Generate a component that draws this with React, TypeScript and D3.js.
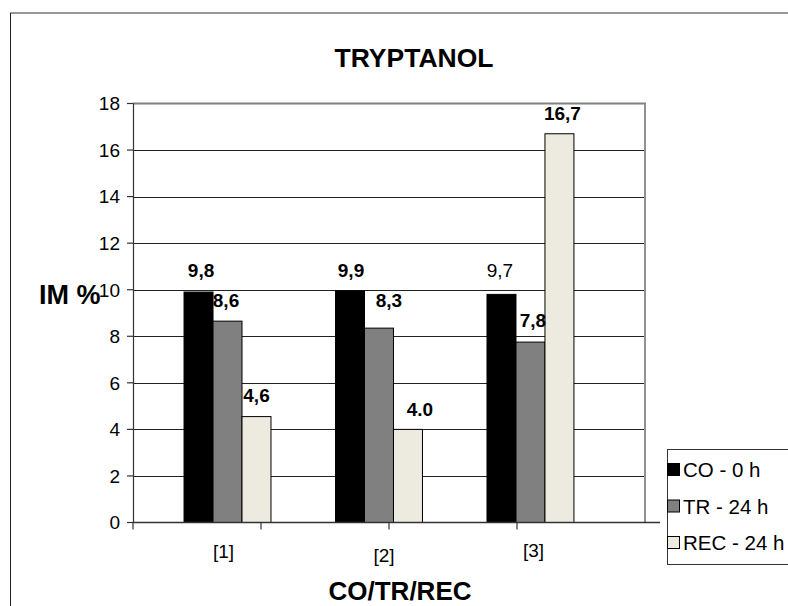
import React from "react";
import * as d3 from "d3";

const categories = ["[1]", "[2]", "[3]"];
const seriesNames = ["CO - 0 h", "TR - 24 h", "REC - 24 h"];
const coValues = [9.9, 9.95, 9.8];
const trValues = [8.65, 8.35, 7.75];
const recValues = [4.55, 4.0, 16.7];
const coLabels = ["9,8", "9,9", "9,7"];
const trLabels = ["8,6", "8,3", "7,8"];
const recLabels = ["4,6", "4.0", "16,7"];
const labelBold = [
  [true, true, false],
  [true, true, true],
  [true, true, true],
];
const yTicks = [0, 2, 4, 6, 8, 10, 12, 14, 16, 18];

const W = 788;
const H = 606;
const FONT = "'Liberation Sans', Arial, Helvetica, sans-serif";

// label nudges (dx, extra gap above bar)
const labelDx = [
  [2.5, 1, -1.5],
  [-1.5, 10, 2.5],
  [0, 12, 3],
];
const labelGap = [
  [15, 14, 17],
  [14, 21, 15],
  [14.5, 13, 14],
];
const tickDx = [-4, 5, 3];
const tickDy = [0, 4, -1];

export default function App() {
  const series = [coValues, trValues, recValues];
  const labels = [coLabels, trLabels, recLabels];
  const colors = ["#000000", "#808080", "#EDEBE0"];

  const left = 133;
  const right = 645;
  const top = 103.5;
  const bottom = 522.5;

  const y = d3.scaleLinear().domain([0, 18]).range([bottom, top]);
  const x = d3
    .scaleBand<string>()
    .domain(categories)
    .range([left, right])
    .paddingInner(0.426)
    .paddingOuter(0.403)
    .align(0.418);
  const xs = d3
    .scaleBand<string>()
    .domain(seriesNames)
    .range([0, x.bandwidth()])
    .padding(0);
  const tickScale = d3.scaleLinear().domain([0, 4]).range([left, right]);
  const xTicks = d3.range(0, 4);

  return (
    <svg
      width={W}
      height={H}
      style={{ position: "absolute", left: 0, top: 0, background: "#fff" }}
      fontFamily={FONT}
    >
      <rect x={0} y={0} width={W} height={H} fill="#fff" />
      {/* outer border */}
      <line x1={10} y1={13} x2={W} y2={13} stroke="#777" strokeWidth={1.5} />
      <line x1={10.5} y1={13} x2={10.5} y2={H} stroke="#222" strokeWidth={1} />

      {/* title */}
      <text x={414} y={67} textAnchor="middle" fontSize={26.5} fontWeight="bold">
        TRYPTANOL
      </text>

      {/* gridlines */}
      {yTicks
        .filter((t) => t > 0 && t < 18)
        .map((t) => (
          <line
            key={t}
            x1={left}
            x2={right}
            y1={Math.round(y(t)) + 0.5}
            y2={Math.round(y(t)) + 0.5}
            stroke="#222"
            strokeWidth={1}
          />
        ))}
      {/* plot area top/right border */}
      <line x1={left} x2={right + 1} y1={y(18)} y2={y(18)} stroke="#808080" strokeWidth={2} />
      <line x1={right} x2={right} y1={y(18)} y2={bottom} stroke="#909090" strokeWidth={2} />

      {/* bars */}
      {categories.map((c, ci) =>
        seriesNames.map((s, si) => {
          const v = series[si][ci];
          const bx = (x(c) as number) + (xs(s) as number);
          return (
            <rect
              key={c + s}
              x={bx}
              y={y(v)}
              width={xs.bandwidth()}
              height={y(0) - y(v)}
              fill={colors[si]}
              stroke="#000"
              strokeWidth={1}
            />
          );
        })
      )}

      {/* value labels */}
      {categories.map((c, ci) =>
        seriesNames.map((s, si) => {
          const v = series[si][ci];
          const cx = (x(c) as number) + (xs(s) as number) + xs.bandwidth() / 2;
          return (
            <text
              key={"l" + c + s}
              x={cx + labelDx[si][ci]}
              y={y(v) - labelGap[si][ci]}
              textAnchor="middle"
              fontSize={19}
              fontWeight={labelBold[si][ci] ? "bold" : "normal"}
            >
              {labels[si][ci]}
            </text>
          );
        })
      )}

      {/* y axis */}
      <line x1={left + 0.5} x2={left + 0.5} y1={top} y2={bottom} stroke="#333" strokeWidth={1.2} />
      {yTicks.map((t) => (
        <g key={"yt" + t}>
          <line x1={left - 6} x2={left} y1={y(t)} y2={y(t)} stroke="#333" strokeWidth={1.2} />
          <text x={120} y={y(t)} dy="0.36em" textAnchor="end" fontSize={19}>
            {t}
          </text>
        </g>
      ))}

      {/* x axis */}
      <line x1={left} x2={right + 15} y1={bottom} y2={bottom} stroke="#333" strokeWidth={1.5} />
      {xTicks.map((t) => (
        <line
          key={"xt" + t}
          x1={tickScale(t)}
          x2={tickScale(t)}
          y1={bottom}
          y2={bottom + 7}
          stroke="#333"
          strokeWidth={1.2}
        />
      ))}
      {categories.map((c, ci) => (
        <text
          key={"xl" + c}
          x={(x(c) as number) + x.bandwidth() / 2 + tickDx[ci]}
          y={557.5 + tickDy[ci]}
          textAnchor="middle"
          fontSize={19}
        >
          {c}
        </text>
      ))}

      {/* axis titles */}
      <text x={400} y={600} textAnchor="middle" fontSize={26} fontWeight="bold">
        CO/TR/REC
      </text>
      <text x={39} y={304} fontSize={27} fontWeight="bold">
        IM %
      </text>

      {/* legend */}
      <rect x={667.5} y={449.5} width={140} height={115} fill="#fff" stroke="#333" strokeWidth={1} />
      {seriesNames.map((s, si) => {
        const cy = 470 + si * 36.5;
        return (
          <g key={"lg" + s}>
            <rect
              x={667.5}
              y={cy - 6.5}
              width={12}
              height={12}
              fill={colors[si]}
              stroke="#000"
              strokeWidth={1}
            />
            <text x={683} y={cy} dy="0.36em" fontSize={20.5}>
              {s}
            </text>
          </g>
        );
      })}
    </svg>
  );
}
